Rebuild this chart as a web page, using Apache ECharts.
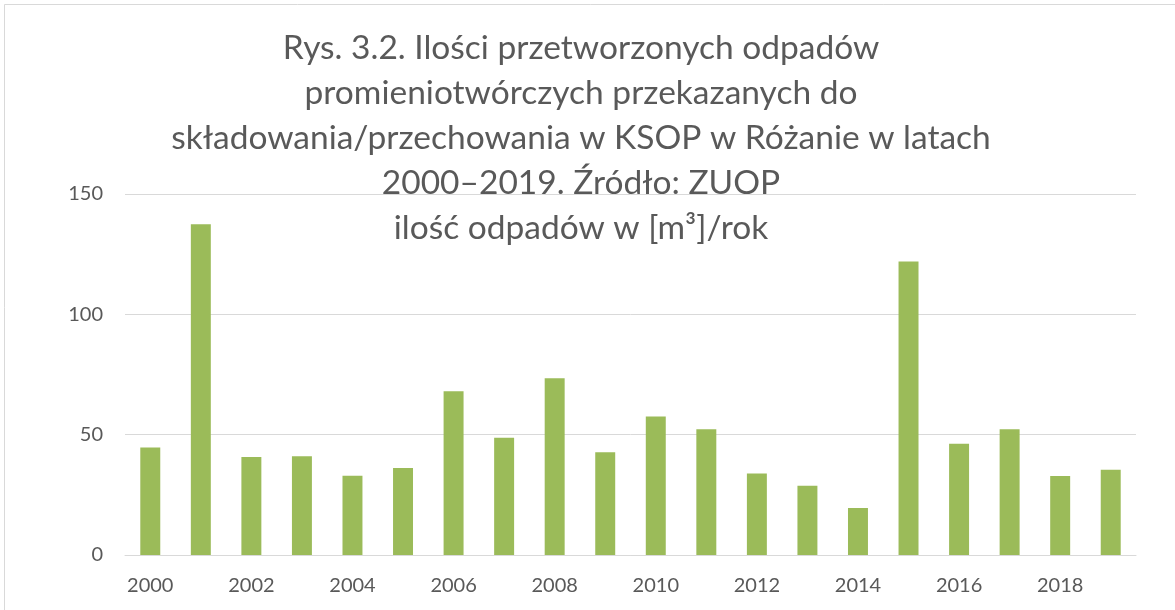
<!DOCTYPE html>
<html>
<head>
<meta charset="utf-8">
<script src="https://cdn.jsdelivr.net/npm/echarts@6/dist/echarts.min.js"></script>
<style>
html,body{margin:0;padding:0;background:#fff;}
#c{width:1175px;height:610px;}
</style>
</head>
<body>
<div id="c"></div>
<script>
const years = ['2000','2001','2002','2003','2004','2005','2006','2007','2008','2009','2010','2011','2012','2013','2014','2015','2016','2017','2018','2019'];
const values = [44.7,137.4,40.7,41.0,32.9,36.1,68.0,48.7,73.4,42.7,57.6,52.3,33.9,28.8,19.5,122.0,46.2,52.3,32.8,35.4];
const titleLines = ['Rys. 3.2. Ilości przetworzonych odpadów','promieniotwórczych przekazanych do','składowania/przechowania w KSOP w Różanie w latach','2000–2019. Źródło: ZUOP','ilość odpadów w [m³]/rok'];

const chart = echarts.init(document.getElementById('c'));
chart.setOption({
  backgroundColor:'#fff',
  animation:false,
  graphic:[{type:'rect',shape:{x:4.5,y:4.5,width:1200,height:700},style:{fill:'none',stroke:'#d9d9d9',lineWidth:1},z:-1}],
  title:{
    text:titleLines.join('\n'),
    left:576, top:21, textAlign:'center',
    textStyle:{fontFamily:'Lato',fontSize:33.5,fontWeight:'normal',color:'#595959',lineHeight:45}
  },
  grid:{left:125,right:39,top:194,bottom:55,containLabel:false},
  xAxis:{
    type:'category',data:years,
    axisLine:{show:true,lineStyle:{color:'#d9d9d9',width:1}},
    axisTick:{show:false},
    axisLabel:{interval:1,color:'#595959',fontFamily:'Lato',fontSize:20,margin:21}
  },
  yAxis:{
    type:'value',min:0,max:150,interval:50,
    axisLine:{show:false},axisTick:{show:false},
    splitLine:{lineStyle:{color:'#d9d9d9',width:1}},
    axisLabel:{color:'#595959',fontFamily:'Lato',fontSize:20,margin:22}
  },
  series:[{type:'bar',data:values,barWidth:'39.5%',itemStyle:{color:'#9bbb59'}}]
});
</script>
</body>
</html>
